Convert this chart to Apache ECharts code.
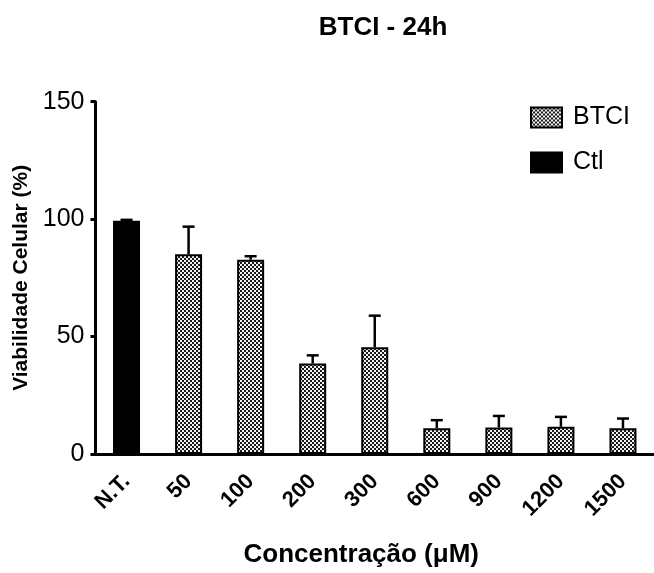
<!DOCTYPE html>
<html>
<head>
<meta charset="utf-8">
<script src="https://cdn.jsdelivr.net/npm/echarts@6/dist/echarts.min.js"></script>
<style>html,body{margin:0;padding:0;background:#fff}#c{width:654px;height:573px}</style>
</head>
<body>
<div id="c"></div>
<script>
var categories = ['N.T.', '50', '100', '200', '300', '600', '900', '1200', '1500'];
var ctlValues = [99.3, null, null, null, null, null, null, null, null];
var btciValues = [null, 85, 82.7, 38.5, 45.5, 11, 11.3, 11.6, 11];
var sdValues = [0.4, 11.8, 1.5, 3.5, 13.4, 3.4, 4.9, 4.2, 4.1];
var yTicks = [0, 50, 100, 150];

function makePattern() {
  var c = document.createElement('canvas');
  c.width = 4; c.height = 4;
  var g = c.getContext('2d');
  g.fillStyle = '#1a1a1a'; g.fillRect(0, 0, 4, 4);
  g.fillStyle = '#f2f2f2';
  g.fillRect(0, 0, 2, 2); g.fillRect(2, 2, 2, 2);
  return c;
}
var pattern = { image: makePattern(), repeat: 'repeat' };

var errData = categories.map(function (c, i) {
  var v = ctlValues[i] != null ? ctlValues[i] : btciValues[i];
  return [i, v, v + sdValues[i]];
});

var chart = echarts.init(document.getElementById('c'));
chart.setOption({
  animation: false,
  backgroundColor: '#fff',
  title: {
    text: 'BTCI - 24h', left: 378, top: 10, textAlign: 'center',
    textStyle: { fontFamily: 'Liberation Sans', fontWeight: 'bold', fontSize: 26, color: '#000' }
  },
  legend: {
    orient: 'vertical', left: 525, top: 100, itemWidth: 31, itemHeight: 20, itemGap: 20,
    icon: 'rect',
    data: ['BTCI', 'Ctl'],
    textStyle: { fontFamily: 'Liberation Sans', fontSize: 25, color: '#000', padding: [0, 0, 0, 6] }
  },
  grid: { left: 95.5, top: 101.7, width: 564, height: 357, containLabel: false },
  xAxis: {
    type: 'category', data: categories,
    name: 'Concentração (μM)', nameLocation: 'middle', nameGap: 88,
    nameTextStyle: { fontFamily: 'Liberation Sans', fontWeight: 'bold', fontSize: 26, color: '#000', padding: [0, 27, 0, 0] },
    axisLine: { lineStyle: { color: '#000', width: 3 } },
    axisTick: { show: false },
    axisLabel: { rotate: 45, margin: 24, fontFamily: 'Liberation Sans', fontWeight: 'bold', fontSize: 22, color: '#000' }
  },
  yAxis: {
    type: 'value', min: 0, max: 150, interval: 50,
    name: 'Viabilidade Celular (%)', nameLocation: 'middle', nameGap: 64,
    nameTextStyle: { fontFamily: 'Liberation Sans', fontWeight: 'bold', fontSize: 21, color: '#000' },
    axisLine: { show: true, lineStyle: { color: '#000', width: 3 } },
    axisTick: { show: true, length: 5, lineStyle: { color: '#000', width: 3 } },
    axisLabel: { margin: 11, fontFamily: 'Liberation Sans', fontSize: 25, color: '#000',
      formatter: function (v) { return yTicks.indexOf(v) >= 0 ? String(v) : ''; } },
    splitLine: { show: false }
  },
  series: [
    {
      name: 'BTCI', type: 'bar', data: btciValues, barWidth: 27, barGap: '-100%',
      itemStyle: { color: pattern, borderColor: '#000', borderWidth: 2 }
    },
    {
      name: 'Ctl', type: 'bar', data: ctlValues, barWidth: 27, barGap: '-100%',
      itemStyle: { color: '#000', borderColor: '#000', borderWidth: 2 }
    },
    {
      type: 'custom', data: errData, z: 1,
      renderItem: function (params, api) {
        var x = api.value(0);
        var p0 = api.coord([x, api.value(1)]);
        var p1 = api.coord([x, api.value(2)]);
        var w = 6;
        return {
          type: 'group',
          children: [
            { type: 'line', shape: { x1: p0[0], y1: p0[1], x2: p1[0], y2: p1[1] }, style: { stroke: '#000', lineWidth: 2.5 } },
            { type: 'line', shape: { x1: p1[0] - w, y1: p1[1], x2: p1[0] + w, y2: p1[1] }, style: { stroke: '#000', lineWidth: 2.5 } }
          ]
        };
      }
    }
  ]
});
</script>
</body>
</html>
